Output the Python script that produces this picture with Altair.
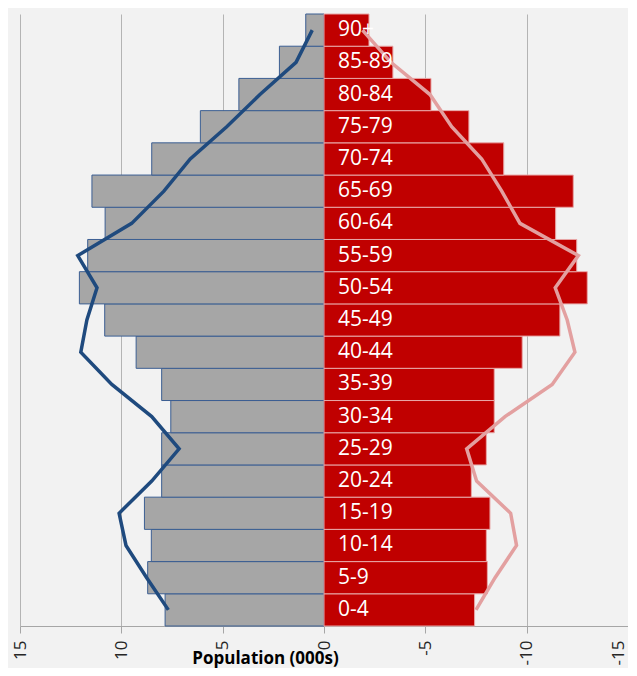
import altair as alt
import pandas as pd

ages = ["0-4", "5-9", "10-14", "15-19", "20-24", "25-29", "30-34", "35-39", "40-44",
        "45-49", "50-54", "55-59", "60-64", "65-69", "70-74", "75-79", "80-84", "85-89", "90+"]
male = [7.84, 8.70, 8.52, 8.86, 8.01, 8.01, 7.56, 8.01, 9.27, 10.82, 12.07, 11.66, 10.80,
        11.45, 8.50, 6.10, 4.20, 2.20, 0.90]
female = [-7.43, -8.06, -8.01, -8.19, -7.27, -8.01, -8.40, -8.40, -9.78, -11.64, -12.99,
          -12.47, -11.43, -12.30, -8.87, -7.15, -5.28, -3.40, -2.22]
male_line = [7.68, 8.75, 9.77, 10.11, 8.50, 7.15, 8.50, 10.47, 12.00, 11.70, 11.20, 12.15,
             9.49, 7.90, 6.60, 4.80, 3.16, 1.38, 0.58]
female_line = [-7.50, -8.44, -9.50, -9.21, -7.53, -7.04, -8.93, -11.26, -12.38, -12.00,
               -11.41, -12.55, -9.67, -8.77, -7.78, -6.30, -5.23, -3.30, -1.90]
x_ticks = [15, 10, 5, 0, -5, -10, -15]

df = pd.DataFrame({"age": ages, "male": male, "female": female,
                   "male_line": male_line, "female_line": female_line})
order = ages[::-1]

yenc = alt.Y("age:N", sort=order, axis=None,
             scale=alt.Scale(paddingInner=0, paddingOuter=0))
xscale = alt.Scale(domain=[-15, 15], reverse=True, nice=False, zero=False)
xaxis = alt.Axis(values=x_ticks, title="Population (000s)", grid=True,
                 labelExpr="toString(datum.value)",
                 labelOffset={"condition": {"test": "datum.value == -15", "value": -10},
                              "value": 0},
                 gridColor="#b4b4b4", gridWidth=1, domainColor="#a6a6a6",
                 tickColor="#a6a6a6", tickSize=7, labelAngle=270, labelFontSize=17,
                 labelFont="Open Sans", labelColor="#262626", labelPadding=7,
                 titleFont="Open Sans", titleFontSize=17, titleFontWeight="bold",
                 titleColor="#000000", titleX=245, titleY=37,
                 titleBaseline="alphabetic", titleAlign="center")

base = alt.Chart(df)

male_bars = base.mark_bar(color="#a6a6a6", stroke="#3b5e92", strokeWidth=1).encode(
    x=alt.X("male:Q", scale=xscale, axis=xaxis), y=yenc)
female_bars = base.mark_bar(color="#c00000", stroke="#e8a7a7", strokeWidth=1).encode(
    x=alt.X("female:Q"), y=yenc)
labels = base.mark_text(align="left", baseline="middle", dx=14, color="white",
                        font="Open Sans", fontSize=21).encode(
    x=alt.datum(0), y=yenc, text="age:N")
male_ln = base.mark_line(color="#1f4a7e", strokeWidth=3.5).encode(
    x="male_line:Q", y=yenc)
female_ln = base.mark_line(color="#e3a0a0", strokeWidth=3.5).encode(
    x="female_line:Q", y=yenc)

chart = alt.layer(male_bars, female_bars, male_ln, female_ln, labels).properties(
    width=608, height=612,
    background="#f2f2f2",
    autosize=alt.AutoSizeParams(type="none"),
    padding={"left": 12, "top": 6, "right": 0, "bottom": 42},
).configure_view(stroke=None)

chart.save("out.html", embed_options={"renderer": "svg", "actions": False})
